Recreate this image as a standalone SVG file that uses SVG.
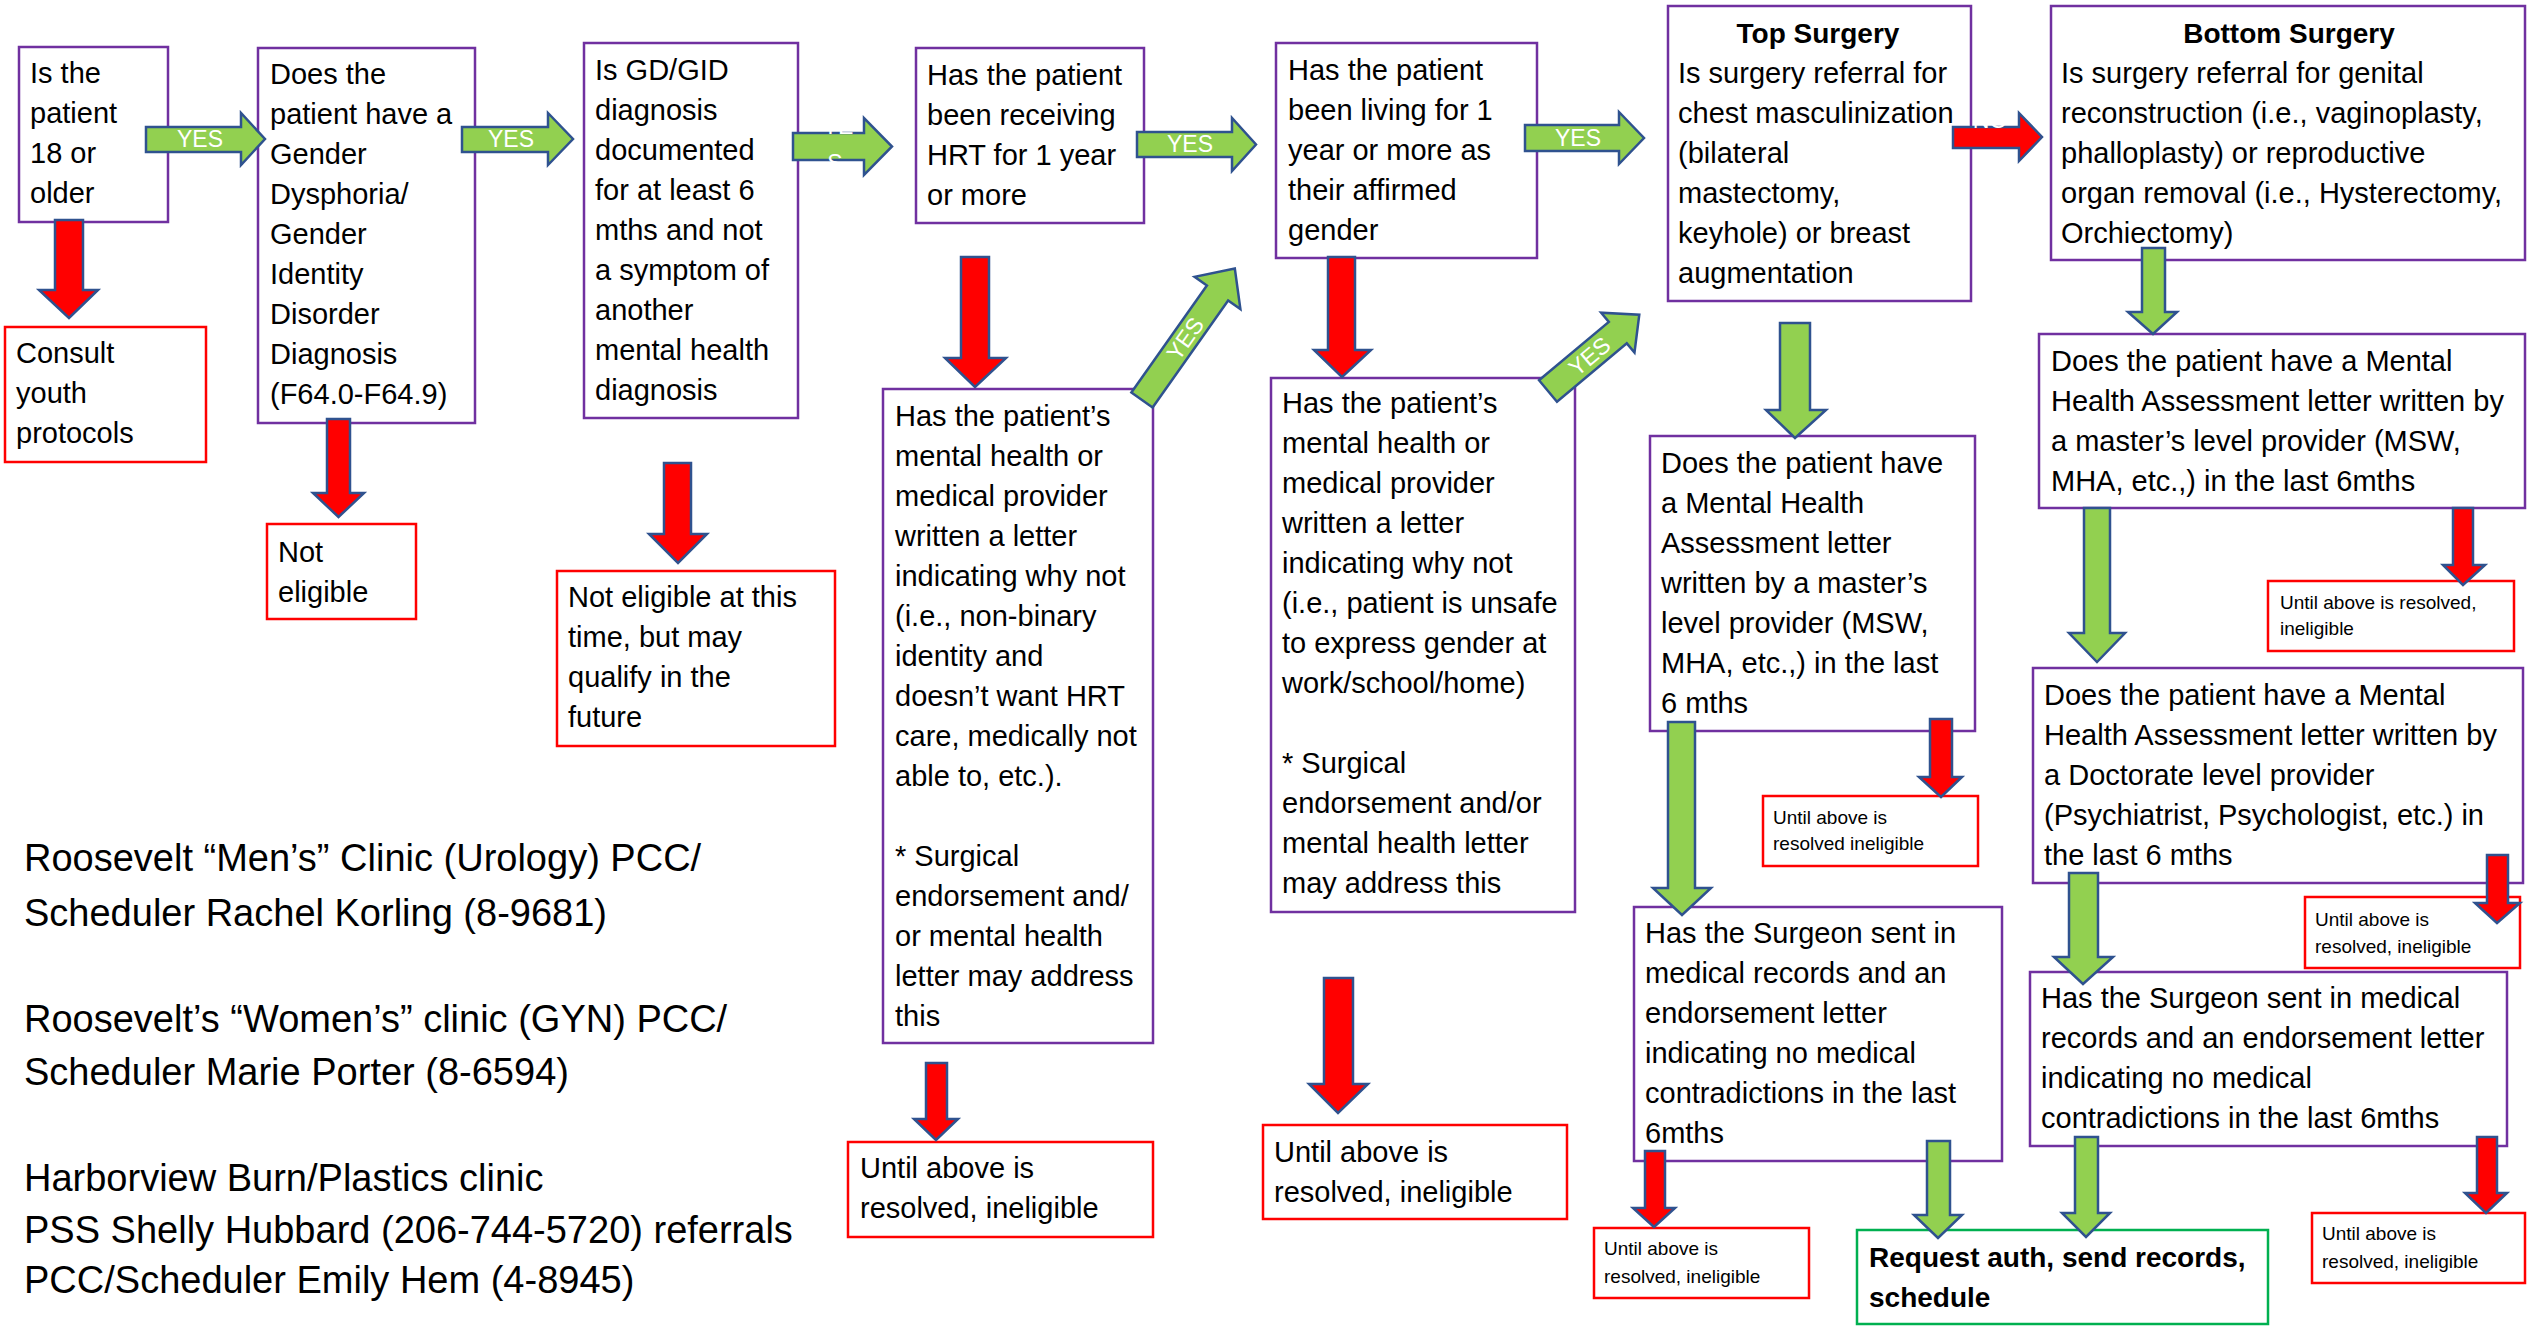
<svg xmlns="http://www.w3.org/2000/svg" width="2527" height="1326" viewBox="0 0 2527 1326">
<style>
.box{fill:#fff;stroke:#7030A0;stroke-width:2.5}
.rbox{fill:#fff;stroke:#FF0000;stroke-width:2.5}
.gbox{fill:#fff;stroke:#00B050;stroke-width:2.5}
text{font-family:"Liberation Sans",Arial,sans-serif;fill:#000}
.t{font-size:29px}
.s{font-size:19px}
.b{font-size:28px;font-weight:bold}
.n{font-size:38px}
.ga{fill:#92D050;stroke:#2F528F;stroke-width:2.5}
.ra{fill:#FF0000;stroke:#2F528F;stroke-width:2.5}
.y{font-size:23px;fill:#fff;text-anchor:middle}
</style>
<rect width="2527" height="1326" fill="#fff"/>

<g id="n-age"><rect class="box" x="19" y="47" width="149" height="175"/>
<text class="t" x="30"><tspan x="30" y="83">Is the</tspan><tspan x="30" y="123">patient</tspan><tspan x="30" y="163">18 or</tspan><tspan x="30" y="203">older</tspan></text></g>

<g id="n-youth"><rect class="rbox" x="5" y="327" width="201" height="135"/>
<text class="t"><tspan x="16" y="363">Consult</tspan><tspan x="16" y="403">youth</tspan><tspan x="16" y="443">protocols</tspan></text></g>

<g id="n-gd"><rect class="box" x="258" y="48" width="217" height="375"/>
<text class="t"><tspan x="270" y="84">Does the</tspan><tspan x="270" y="124">patient have a</tspan><tspan x="270" y="164">Gender</tspan><tspan x="270" y="204">Dysphoria/</tspan><tspan x="270" y="244">Gender</tspan><tspan x="270" y="284">Identity</tspan><tspan x="270" y="324">Disorder</tspan><tspan x="270" y="364">Diagnosis</tspan><tspan x="270" y="404">(F64.0-F64.9)</tspan></text></g>

<g id="n-noteligible"><rect class="rbox" x="267" y="524" width="149" height="95"/>
<text class="t"><tspan x="278" y="562">Not</tspan><tspan x="278" y="602">eligible</tspan></text></g>

<g id="n-documented"><rect class="box" x="584" y="43" width="214" height="375"/>
<text class="t"><tspan x="595" y="80">Is GD/GID</tspan><tspan x="595" y="120">diagnosis</tspan><tspan x="595" y="160">documented</tspan><tspan x="595" y="200">for at least 6</tspan><tspan x="595" y="240">mths and not</tspan><tspan x="595" y="280">a symptom of</tspan><tspan x="595" y="320">another</tspan><tspan x="595" y="360">mental health</tspan><tspan x="595" y="400">diagnosis</tspan></text></g>

<g id="n-future"><rect class="rbox" x="557" y="571" width="278" height="175"/>
<text class="t"><tspan x="568" y="607">Not eligible at this</tspan><tspan x="568" y="647">time, but may</tspan><tspan x="568" y="687">qualify in the</tspan><tspan x="568" y="727">future</tspan></text></g>

<g id="n-hrt"><rect class="box" x="916" y="48" width="228" height="175"/>
<text class="t"><tspan x="927" y="85">Has the patient</tspan><tspan x="927" y="125">been receiving</tspan><tspan x="927" y="165">HRT for 1 year</tspan><tspan x="927" y="205">or more</tspan></text></g>

<g id="n-living"><rect class="box" x="1276" y="43" width="261" height="215"/>
<text class="t"><tspan x="1288" y="80">Has the patient</tspan><tspan x="1288" y="120">been living for 1</tspan><tspan x="1288" y="160">year or more as</tspan><tspan x="1288" y="200">their affirmed</tspan><tspan x="1288" y="240">gender</tspan></text></g>

<g id="n-letter-hrt"><rect class="box" x="883" y="389" width="270" height="654"/>
<text class="t"><tspan x="895" y="426">Has the patient’s</tspan><tspan x="895" y="466">mental health or</tspan><tspan x="895" y="506">medical provider</tspan><tspan x="895" y="546">written a letter</tspan><tspan x="895" y="586">indicating why not</tspan><tspan x="895" y="626">(i.e., non-binary</tspan><tspan x="895" y="666">identity and</tspan><tspan x="895" y="706">doesn’t want HRT</tspan><tspan x="895" y="746">care, medically not</tspan><tspan x="895" y="786">able to, etc.).</tspan><tspan x="895" y="866">* Surgical</tspan><tspan x="895" y="906">endorsement and/</tspan><tspan x="895" y="946">or mental health</tspan><tspan x="895" y="986">letter may address</tspan><tspan x="895" y="1026">this</tspan></text></g>

<g id="n-letter-living"><rect class="box" x="1271" y="378" width="304" height="534"/>
<text class="t"><tspan x="1282" y="413">Has the patient’s</tspan><tspan x="1282" y="453">mental health or</tspan><tspan x="1282" y="493">medical provider</tspan><tspan x="1282" y="533">written a letter</tspan><tspan x="1282" y="573">indicating why not</tspan><tspan x="1282" y="613">(i.e., patient is unsafe</tspan><tspan x="1282" y="653">to express gender at</tspan><tspan x="1282" y="693">work/school/home)</tspan><tspan x="1282" y="773">* Surgical</tspan><tspan x="1282" y="813">endorsement and/or</tspan><tspan x="1282" y="853">mental health letter</tspan><tspan x="1282" y="893">may address this</tspan></text></g>

<g id="n-inel-hrt"><rect class="rbox" x="848" y="1142" width="305" height="95"/>
<text class="t"><tspan x="860" y="1178">Until above is</tspan><tspan x="860" y="1218">resolved, ineligible</tspan></text></g>

<g id="n-inel-living"><rect class="rbox" x="1263" y="1125" width="304" height="94"/>
<text class="t"><tspan x="1274" y="1162">Until above is</tspan><tspan x="1274" y="1202">resolved, ineligible</tspan></text></g>

<g id="n-top"><rect class="box" x="1668" y="6" width="303" height="295"/>
<text class="b" x="1818" y="43" text-anchor="middle">Top Surgery</text>
<text class="t"><tspan x="1678" y="83">Is surgery referral for</tspan><tspan x="1678" y="123">chest masculinization</tspan><tspan x="1678" y="163">(bilateral</tspan><tspan x="1678" y="203">mastectomy,</tspan><tspan x="1678" y="243">keyhole) or breast</tspan><tspan x="1678" y="283">augmentation</tspan></text></g>

<g id="n-bottom"><rect class="box" x="2051" y="6" width="474" height="254"/>
<text class="b" x="2289" y="43" text-anchor="middle">Bottom Surgery</text>
<text class="t"><tspan x="2061" y="83">Is surgery referral for genital</tspan><tspan x="2061" y="123">reconstruction (i.e., vaginoplasty,</tspan><tspan x="2061" y="163">phalloplasty) or reproductive</tspan><tspan x="2061" y="203">organ removal (i.e., Hysterectomy,</tspan><tspan x="2061" y="243">Orchiectomy)</tspan></text></g>

<g id="n-top-mh"><rect class="box" x="1650" y="436" width="325" height="295"/>
<text class="t"><tspan x="1661" y="473">Does the patient have</tspan><tspan x="1661" y="513">a Mental Health</tspan><tspan x="1661" y="553">Assessment letter</tspan><tspan x="1661" y="593">written by a master’s</tspan><tspan x="1661" y="633">level provider (MSW,</tspan><tspan x="1661" y="673">MHA, etc.,) in the last</tspan><tspan x="1661" y="713">6 mths</tspan></text></g>

<g id="n-top-mh-inel"><rect class="rbox" x="1763" y="796" width="215" height="70"/>
<text class="s"><tspan x="1773" y="824">Until above is</tspan><tspan x="1773" y="850">resolved ineligible</tspan></text></g>

<g id="n-bot-mh"><rect class="box" x="2039" y="334" width="486" height="174"/>
<text class="t"><tspan x="2051" y="371">Does the patient have a Mental</tspan><tspan x="2051" y="411">Health Assessment letter written by</tspan><tspan x="2051" y="451">a master’s level provider (MSW,</tspan><tspan x="2051" y="491">MHA, etc.,) in the last 6mths</tspan></text></g>

<g id="n-bot-mh-inel"><rect class="rbox" x="2268" y="581" width="246" height="70"/>
<text class="s"><tspan x="2280" y="609">Until above is resolved,</tspan><tspan x="2280" y="635">ineligible</tspan></text></g>

<g id="n-bot-doc"><rect class="box" x="2033" y="668" width="490" height="215"/>
<text class="t"><tspan x="2044" y="705">Does the patient have a Mental</tspan><tspan x="2044" y="745">Health Assessment letter written by</tspan><tspan x="2044" y="785">a Doctorate level provider</tspan><tspan x="2044" y="825">(Psychiatrist, Psychologist, etc.) in</tspan><tspan x="2044" y="865">the last 6 mths</tspan></text></g>

<g id="n-bot-doc-inel"><rect class="rbox" x="2305" y="897" width="215" height="71"/>
<text class="s"><tspan x="2315" y="926">Until above is</tspan><tspan x="2315" y="953">resolved, ineligible</tspan></text></g>

<g id="n-top-surgeon"><rect class="box" x="1634" y="907" width="368" height="254"/>
<text class="t"><tspan x="1645" y="943">Has the Surgeon sent in</tspan><tspan x="1645" y="983">medical records and an</tspan><tspan x="1645" y="1023">endorsement letter</tspan><tspan x="1645" y="1063">indicating no medical</tspan><tspan x="1645" y="1103">contradictions in the last</tspan><tspan x="1645" y="1143">6mths</tspan></text></g>

<g id="n-bot-surgeon"><rect class="box" x="2030" y="972" width="477" height="174"/>
<text class="t"><tspan x="2041" y="1008">Has the Surgeon sent in medical</tspan><tspan x="2041" y="1048">records and an endorsement letter</tspan><tspan x="2041" y="1088">indicating no medical</tspan><tspan x="2041" y="1128">contradictions in the last 6mths</tspan></text></g>

<g id="n-top-surgeon-inel"><rect class="rbox" x="1594" y="1228" width="215" height="70"/>
<text class="s"><tspan x="1604" y="1255">Until above is</tspan><tspan x="1604" y="1283">resolved, ineligible</tspan></text></g>

<g id="n-bot-surgeon-inel"><rect class="rbox" x="2312" y="1213" width="213" height="70"/>
<text class="s"><tspan x="2322" y="1240">Until above is</tspan><tspan x="2322" y="1268">resolved, ineligible</tspan></text></g>

<g id="n-request"><rect class="gbox" x="1857" y="1230" width="411" height="94"/>
<text class="b"><tspan x="1869" y="1267">Request auth, send records,</tspan><tspan x="1869" y="1307">schedule</tspan></text></g>

<g id="n-contacts">
<text class="n"><tspan x="24" y="871">Roosevelt “Men’s” Clinic (Urology) PCC/</tspan><tspan x="24" y="926">Scheduler Rachel Korling (8-9681)</tspan><tspan x="24" y="1032">Roosevelt’s “Women’s” clinic (GYN) PCC/</tspan><tspan x="24" y="1085">Scheduler Marie Porter (8-6594)</tspan><tspan x="24" y="1191">Harborview Burn/Plastics clinic</tspan><tspan x="24" y="1243">PSS Shelly Hubbard (206-744-5720) referrals</tspan><tspan x="24" y="1293">PCC/Scheduler Emily Hem (4-8945)</tspan></text>
</g>

<g id="connectors">
<path class="ga" d="M146,127 H241 V113 L265,139 L241,165 V152 H146 Z"/>
<text class="y" x="200" y="147">YES</text>
<path class="ga" d="M462,127 H548 V113 L573,139 L548,165 V152 H462 Z"/>
<text class="y" x="511" y="147">YES</text>
<path class="ga" d="M793,133 H864 V118 L892,146.5 L864,175 V160 H793 Z"/>
<text class="y" x="838" y="134">YE</text>
<text class="y" x="835" y="171">S</text>
<path class="ga" d="M1137,132 H1232 V118 L1256,144.5 L1232,171 V157 H1137 Z"/>
<text class="y" x="1190" y="152">YES</text>
<path class="ga" d="M1525,125 H1619 V112 L1644,138 L1619,164 V151 H1525 Z"/>
<text class="y" x="1578" y="146">YES</text>
<path class="ra" d="M1953,127 H2019 V113 L2042,137 L2019,161 V148 H1953 Z"/>
<text class="y" x="1990" y="128">NO</text>

<g transform="translate(1142,400) rotate(-54.8)">
<path class="ga" d="M0,-13 H131 V-28 L161,0 L131,28 V13 H0 Z"/>
<text class="y" x="75" y="8">YES</text>
</g>
<g transform="translate(1548,391) rotate(-39.9)">
<path class="ga" d="M0,-14 H91 V-26 L119,0 L91,26 V14 H0 Z"/>
<text class="y" x="54" y="8">YES</text>
</g>

<path class="ra" d="M55,220 H83 V290 H98 L69,318 L39,290 H55 Z"/>
<path class="ra" d="M327,419 H350 V493 H364 L338.5,517 L313,493 H327 Z"/>
<path class="ra" d="M664,463 H691 V534 H707 L678,563 L649,534 H664 Z"/>
<path class="ra" d="M961,257 H989 V358 H1006 L975,387 L945,358 H961 Z"/>
<path class="ra" d="M1328,257 H1355 V350 H1371 L1342,377 L1314,350 H1328 Z"/>
<path class="ra" d="M926,1063 H947 V1119 H958 L936,1140 L914,1119 H926 Z"/>
<path class="ra" d="M1324,978 H1353 V1084 H1368 L1338,1113 L1309,1084 H1324 Z"/>
<path class="ga" d="M1780,323 H1810 V410 H1826 L1795,438 L1766,410 H1780 Z"/>
<path class="ga" d="M2142,248 H2165 V312 H2177 L2153,334 L2128,312 H2142 Z"/>
<path class="ga" d="M2084,508 H2110 V633 H2125 L2097,662 L2069,633 H2084 Z"/>
<path class="ra" d="M2453,508 H2473 V565 H2485 L2463,585 L2443,565 H2453 Z"/>
<path class="ga" d="M1668,722 H1695 V888 H1711 L1682,915 L1653,888 H1668 Z"/>
<path class="ra" d="M1930,719 H1952 V777 H1962 L1941,797 L1919,777 H1930 Z"/>
<path class="ra" d="M2487,855 H2508 V903 H2520 L2497,923 L2475,903 H2487 Z"/>
<path class="ga" d="M2069,873 H2098 V957 H2113 L2083,984 L2054,957 H2069 Z"/>
<path class="ra" d="M1645,1151 H1665 V1208 H1675 L1654,1227 L1633,1208 H1645 Z"/>
<path class="ga" d="M1927,1141 H1950 V1215 H1962 L1938,1238 L1914,1215 H1927 Z"/>
<path class="ga" d="M2075,1137 H2098 V1213 H2110 L2086,1237 L2062,1213 H2075 Z"/>
<path class="ra" d="M2477,1137 H2497 V1193 H2507 L2486,1213 L2465,1193 H2477 Z"/>
</g>
</svg>
